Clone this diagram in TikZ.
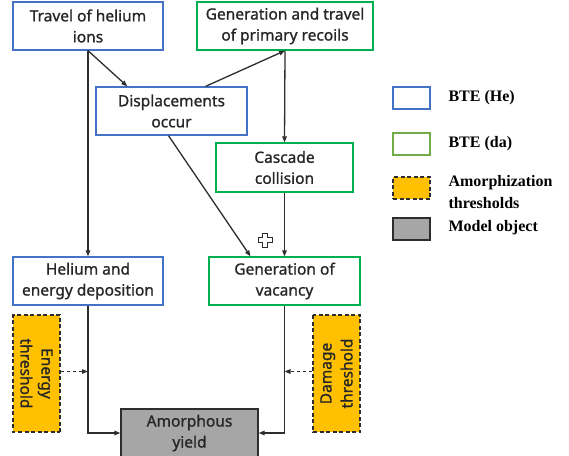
\documentclass[tikz,border=0pt]{standalone}
\usepackage{fontspec}
\setmainfont{Liberation Serif}
\newfontfamily\boxfont[FakeBold=1]{Noto Sans}
\usetikzlibrary{arrows.meta}

\definecolor{heblue}{RGB}{68,114,196}
\definecolor{dagreen}{RGB}{0,176,80}
\definecolor{legreen}{RGB}{112,173,71}
\definecolor{throrange}{RGB}{255,192,0}
\definecolor{modelgray}{RGB}{166,166,166}
\definecolor{linegray}{RGB}{45,45,45}

\tikzset{
  box/.style={draw, line width=1.3pt, fill=white, align=center, inner sep=2pt,
    minimum width=150pt, minimum height=48pt, text=black!85,
    font=\boxfont\fontsize{15.5}{21}\selectfont},
  hebox/.style={box, draw=heblue},
  dabox/.style={box, draw=dagreen},
  thrbox/.style={box, draw=linegray, dash pattern=on 4pt off 2.5pt,
    fill=throrange, minimum width=117pt, minimum height=47pt},
  modelbox/.style={box, draw=linegray, fill=modelgray, minimum width=137pt},
  arr/.style={-{Triangle[length=6pt,width=4.5pt]}, line width=1.3pt, draw=linegray},
  legbox/.style={draw, line width=1.2pt, minimum width=37pt, minimum height=22pt},
  legtext/.style={anchor=west, align=left, font=\bfseries\fontsize{16}{22}\selectfont}
}

\begin{document}
\begin{tikzpicture}[x=1pt, y=-1pt]
  \clip (0,0) rectangle (569,455);

  % 上层：两种输运过程
  \node[hebox] (travel) at (88,26) {Travel of helium\\ions};
  \node[dabox, minimum width=176pt] (primary) at (285,26) {Generation and travel\\of primary recoils};

  % 中层
  \node[hebox, minimum width=151pt] (disp) at (171.5,111) {Displacements\\occur};
  \node[dabox, minimum width=137pt, minimum height=49pt] (cascade) at (284.5,167.5) {Cascade\\collision};

  % 下层
  \node[hebox] (hedep) at (88,281) {Helium and\\energy deposition};
  \node[dabox, minimum width=151pt] (vacancy) at (284.5,281) {Generation of\\vacancy};

  % 阈值与模型对象
  \node[thrbox, rotate=-90] (ethr) at (36.5,373.5) {Energy\\threshold};
  \node[thrbox, rotate=90] (dthr) at (336.5,373.5) {Damage\\threshold};
  \node[modelbox] (yield) at (189.5,433) {Amorphous\\yield};

  % 连线
  \draw[arr] (travel.south) -- (hedep.north);
  \draw[arr] (travel.south) -- ([xshift=32pt]disp.north west);
  \draw[arr] ([xshift=-42pt]disp.north east) -- (primary.south);
  \draw[arr] (primary.south) -- (cascade.north);
  \draw[arr] ([xshift=-3pt]disp.south) -- ([xshift=-34pt]vacancy.north);
  \draw[arr] (cascade.south) -- (vacancy.north);
  \draw[arr] (hedep.south) |- (yield.west);
  \draw[arr] (vacancy.south) |- (yield.east);
  \draw[arr, dashed] ([yshift=2pt]ethr.north) -- ([yshift=2pt]ethr.north -| hedep.south);
  \draw[arr, dashed] ([yshift=2pt]dthr.north) -- ([yshift=2pt]dthr.north -| vacancy.south);

  % 加号
  \draw[line width=1pt, linegray]
    (262.5,233) -- (267.5,233) -- (267.5,237.5) -- (272,237.5) -- (272,242.5)
    -- (267.5,242.5) -- (267.5,247) -- (262.5,247) -- (262.5,242.5) -- (258,242.5)
    -- (258,237.5) -- (262.5,237.5) -- cycle;

  % 图例
  \node[legbox, draw=heblue] (lhe) at (411.5,98) {};
  \node[legbox, draw=legreen] (lda) at (411.5,144) {};
  \node[legbox, draw=linegray, fill=throrange, dash pattern=on 4pt off 2.5pt] (lthr) at (411.5,188) {};
  \node[legbox, draw=linegray, fill=modelgray] (lmodel) at (411.5,229) {};
  \node[legtext] (the) at (445,98) {BTE (He)};
  \node[legtext] (tda) at (445,144) {BTE (da)};
  \node[legtext] (tthr) at (445,192) {Amorphization\\thresholds};
  \node[legtext] (tmodel) at (445,228) {Model object};
\end{tikzpicture}
\end{document}
